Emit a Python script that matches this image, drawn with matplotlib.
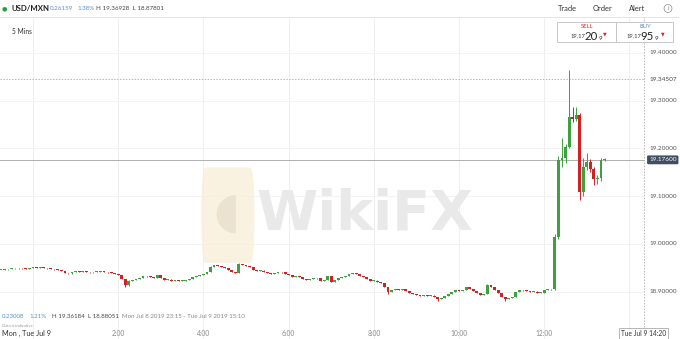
import matplotlib
matplotlib.use("Agg")
import matplotlib.pyplot as plt
from matplotlib.transforms import blended_transform_factory
from matplotlib.patches import Rectangle, FancyBboxPatch
import numpy as np

plt.rcParams['font.family'] = ['Lato', 'DejaVu Sans']

# ---------------- data ----------------
symbol = "USD/MXN"
header_change = "0.26159"
header_pct = "1.38%"
header_hl = "H 19.36928  L 18.87801"
footer_change = "0.23008"
footer_pct = "1.21%"
footer_h = "H 19.36184"
footer_l = "L 18.88051"
footer_range = "Mon Jul 8 2019 23:15 - Tue Jul 9 2019 15:10"
interval_label = "5 Mins"
sell_price = ("19.17", "20", "9")
buy_price = ("19.17", "95", "9")

start_hour = -0.75          # Mon Jul 8 23:15 relative to Tue 00:00
bar_minutes = 5
first_open = 18.9451

closes = [
    18.9451, 18.9462, 18.9472, 18.9483, 18.9493, 18.9488, 18.9483, 18.9472, 18.9493, 18.9498,
    18.9493, 18.9504, 18.9493, 18.9483, 18.9472, 18.9462, 18.9451, 18.9430, 18.9388, 18.9383,
    18.9409, 18.9420, 18.9409, 18.9414, 18.9409, 18.9404, 18.9409, 18.9414, 18.9420, 18.9409,
    18.9399, 18.9388, 18.9367, 18.9346, 18.9262, 18.9136, 18.9220, 18.9241, 18.9262, 18.9283,
    18.9325, 18.9320, 18.9304, 18.9283, 18.9346, 18.9283, 18.9241, 18.9246, 18.9220, 18.9241,
    18.9220, 18.9225, 18.9241, 18.9262, 18.9304, 18.9325, 18.9346, 18.9367, 18.9409, 18.9514,
    18.9556, 18.9535, 18.9514, 18.9493, 18.9451, 18.9409, 18.9388, 18.9577, 18.9556, 18.9535,
    18.9514, 18.9451, 18.9430, 18.9435, 18.9409, 18.9388, 18.9367, 18.9388, 18.9409, 18.9404,
    18.9367, 18.9346, 18.9304, 18.9309, 18.9304, 18.9262, 18.9241, 18.9262, 18.9283, 18.9278,
    18.9220, 18.9241, 18.9325, 18.9199, 18.9241, 18.9283, 18.9304, 18.9325, 18.9367, 18.9388,
    18.9367, 18.9325, 18.9304, 18.9262, 18.9220, 18.9225, 18.9199, 18.9178, 18.9094, 18.8989,
    18.9031, 18.9036, 18.9031, 18.9052, 18.9010, 18.8968, 18.8947, 18.8926, 18.8906, 18.8911,
    18.8906, 18.8911, 18.8885, 18.8843, 18.8864, 18.8906, 18.8947, 18.8989, 18.9031, 18.9010,
    18.9031, 18.9094, 18.9052, 18.9010, 18.8968, 18.8926, 18.8947, 18.9136, 18.9094, 18.9031,
    18.8968, 18.8885, 18.8843, 18.8864, 18.8885, 18.8989, 18.9031, 18.9026, 18.9010, 18.8989,
    18.8994, 18.8968, 18.8973, 18.9031, 18.9052, 18.9047, 19.0143, 19.1757, 19.1799, 19.2029,
    19.2658, 19.2616, 19.2700, 19.1086, 19.1610, 19.1715, 19.1568, 19.1359, 19.1380, 19.1757,
    19.1778,
]

# explicit wicks (index: (high, low)) for the candles with visible shadows
wicks = {
    35: (18.9270, 18.9100), 36: (18.9235, 18.9120), 59: (18.9530, 18.9400),
    67: (18.9590, 18.9380), 93: (18.9330, 18.9190), 109: (18.9100, 18.8950),
    123: (18.8890, 18.8800), 137: (18.9150, 18.8940), 142: (18.8890, 18.8810),
    156: (19.0200, 18.9030), 157: (19.1850, 19.0100), 158: (19.2220, 19.1610),
    159: (19.2100, 19.1700), 160: (19.3640, 19.2000), 161: (19.2870, 19.2550),
    162: (19.2870, 19.2580), 163: (19.2750, 19.0920), 164: (19.1800, 19.1000),
    165: (19.1900, 19.1550), 166: (19.1780, 19.1500), 167: (19.1600, 19.1230),
    168: (19.1450, 19.1250), 169: (19.1800, 19.1320), 170: (19.1790, 19.1740),
}

current_price = 19.176
crosshair_price = 19.34507
crosshair_time = 14 + 20 / 60
crosshair_label = "Tue Jul 9 14:20"
y_ticks = [18.9, 19.0, 19.1, 19.2, 19.3, 19.4]
x_ticks = [2, 4, 6, 8, 10, 12]
x_tick_labels = ["2:00", "4:00", "6:00", "8:00", "10:00", "12:00"]
grid_hours = [0, 2, 4, 6, 8, 10, 12, 14]

# ---------------- figure ----------------
W, H = 680, 339
fig = plt.figure(figsize=(W / 100, H / 100), dpi=100)
fig.patch.set_facecolor("white")

def fy(py):
    return 1 - py / H

def fx(px):
    return px / W

ax = fig.add_axes([0, 0, 645 / W, fy(17)])
ax.set_facecolor("none")
ax.set_xlim(-0.7746, 14.366)
ax.set_ylim(18.80042, 19.47547)
for s in ax.spines.values():
    s.set_visible(False)
ax.set_xticks([])
ax.set_yticks([])

for g in grid_hours:
    ax.axvline(g, color="#efefef", lw=0.7, zorder=0)
for g in y_ticks:
    ax.axhline(g, color="#f3f3f3", lw=0.7, zorder=0)

# watermark
logo = FancyBboxPatch((3.95, 18.96), 1.25, 0.20, boxstyle="round,pad=0.0,rounding_size=0.1",
                      transform=ax.transData, facecolor="#f8eed6", edgecolor="none",
                      alpha=0.75, zorder=0.5)
ax.add_patch(logo)
ax.text(4.55, 19.065, "◖", fontsize=36, color="#ebe2cf", ha="center", va="center",
        family=["DejaVu Sans"], zorder=0.6)
ax.text(5.25, 19.062, "WikiFX", fontsize=40, fontweight="bold", color="#e9e9e9",
        ha="left", va="center", family=["DejaVu Sans"], zorder=0.6)

# candles
opens = [first_open] + closes[:-1]
n = len(closes)
times = [start_hour + i * bar_minutes / 60 for i in range(n)]
green, red = "#3fa03f", "#cf2227"
bw = 0.068
for i in range(n):
    o, c = opens[i], closes[i]
    col = green if c >= o else red
    hi, lo = wicks.get(i, (max(o, c) + 0.0009, min(o, c) - 0.0009))
    ax.vlines(times[i], lo, hi, color=col, lw=0.7, zorder=3)
    body = max(abs(c - o), 0.0013)
    ax.bar(times[i], body, bottom=min(o, c), width=bw, color=col, lw=0, zorder=4)

# current price & crosshair lines
ax.axhline(current_price, color="#b0b0b0", lw=0.7, zorder=2)
ax.axhline(crosshair_price, color="#b5b5b5", lw=0.7, ls=(0, (1.5, 1.5)), zorder=2)
ax.axvline(crosshair_time, ymin=(339 - 330) / 322, ymax=1, color="#b5b5b5", lw=0.7,
           ls=(0, (1.5, 1.5)), zorder=2)

# right axis labels
tr_right = blended_transform_factory(fig.transFigure, ax.transData)
for v in y_ticks:
    ax.text(fx(649), v, f"{v:.5f}", transform=tr_right, fontsize=4.6, color="#555555",
            ha="left", va="center")
ax.text(fx(649), crosshair_price, f"{crosshair_price:.5f}", transform=tr_right, fontsize=4.6,
        color="#444444", ha="left", va="center",
        bbox=dict(boxstyle="square,pad=0.25", fc="white", ec="none"))
ax.text(fx(649), current_price, f"{current_price:.5f}", transform=tr_right, fontsize=4.6,
        color="white", ha="left", va="center",
        bbox=dict(boxstyle="round,pad=0.3,rounding_size=0.2", fc="#3f4e60", ec="none"))

# bottom time labels
tr_bottom = blended_transform_factory(ax.transData, fig.transFigure)
for t, lab in zip(x_ticks, x_tick_labels):
    ax.text(t, fy(333), lab, transform=tr_bottom, fontsize=4.8, color="#8a8a8a",
            ha="center", va="center")
ax.text(crosshair_time, fy(333), crosshair_label, transform=tr_bottom, fontsize=4.8,
        color="#333333", ha="center", va="center",
        bbox=dict(boxstyle="square,pad=0.3", fc="white", ec="#999999", lw=0.5))
fig.text(fx(2), fy(333), "Mon , Tue Jul 9", fontsize=5.2, color="#333333",
         ha="left", va="center")

# header
fig.add_artist(plt.Line2D([0, 1], [fy(16.5), fy(16.5)], color="#e4e4e4", lw=0.7,
                          transform=fig.transFigure))
fig.text(fx(4), fy(8.5), "●", fontsize=4.5, color="#2e9a3a", ha="center", va="center",
         family=["DejaVu Sans"])
fig.text(fx(12), fy(8.5), symbol, fontsize=5.6, fontweight="bold", color="#222222",
         ha="left", va="center")
fig.text(fx(50), fy(8.5), header_change, fontsize=4.5, color="#5b8fc7", ha="left", va="center")
fig.text(fx(77), fy(8.5), header_pct, fontsize=4.5, color="#5b8fc7", ha="left", va="center")
fig.text(fx(96), fy(8.5), header_hl, fontsize=4.5, color="#444444", ha="left", va="center")
for label, x in [("Trade", 558), ("Order", 593), ("Alert", 629)]:
    fig.text(fx(x), fy(8.5), label, fontsize=5.4, color="#333333", ha="left", va="center")
fig.text(fx(668), fy(8.5), "i", fontsize=4.2, color="#777777", ha="center", va="center",
         bbox=dict(boxstyle="circle,pad=0.25", fc="white", ec="#888888", lw=0.5))
fig.text(fx(12), fy(32), interval_label, fontsize=4.8, color="#333333", ha="left",
         va="center")

# sell / buy box
fig.add_artist(Rectangle((fx(557), fy(42)), fx(116), 20 / H, transform=fig.transFigure,
                         fc="white", ec="#c8c8c8", lw=0.7, zorder=5))
fig.add_artist(plt.Line2D([fx(616), fx(616)], [fy(42), fy(22)], color="#c8c8c8", lw=0.7,
                          transform=fig.transFigure, zorder=6))
fig.text(fx(587), fy(26), "SELL", fontsize=4.2, color="#d0262b", ha="center", va="center",
         zorder=7)
fig.text(fx(645), fy(26), "BUY", fontsize=4.2, color="#5b8fc7", ha="center", va="center",
         zorder=7)
for base, (small, big, sub), tri in [(571, sell_price, 605), (627, buy_price, 663)]:
    fig.text(fx(base), fy(36), small, fontsize=4.2, color="#333333", ha="left",
             va="center", zorder=7)
    fig.text(fx(base + 13.5), fy(37), big, fontsize=8.2, color="#222222", ha="left",
             va="center", zorder=7)
    fig.text(fx(base + 27.5), fy(38.5), sub, fontsize=4.4, color="#222222", ha="left",
             va="center", zorder=7)
    fig.text(fx(tri), fy(34), "▼", fontsize=3.4, color="#d0262b", ha="center",
             va="center", family=["DejaVu Sans"], zorder=7)

# footer stats
fig.text(fx(2), fy(316), footer_change, fontsize=4.4, color="#5b8fc7", ha="left", va="center")
fig.text(fx(29), fy(316), footer_pct, fontsize=4.4, color="#5b8fc7", ha="left", va="center")
fig.text(fx(52), fy(316), footer_h, fontsize=4.4, color="#444444", ha="left", va="center")
fig.text(fx(88), fy(316), footer_l, fontsize=4.4, color="#444444", ha="left", va="center")
fig.text(fx(122), fy(316), footer_range, fontsize=4.4, color="#888888", ha="left",
         va="center")
fig.text(fx(2), fy(326), "Data is indicative", fontsize=3.0, color="#999999", ha="left",
         va="center")

fig.savefig("out.png", dpi=100, facecolor="white")
